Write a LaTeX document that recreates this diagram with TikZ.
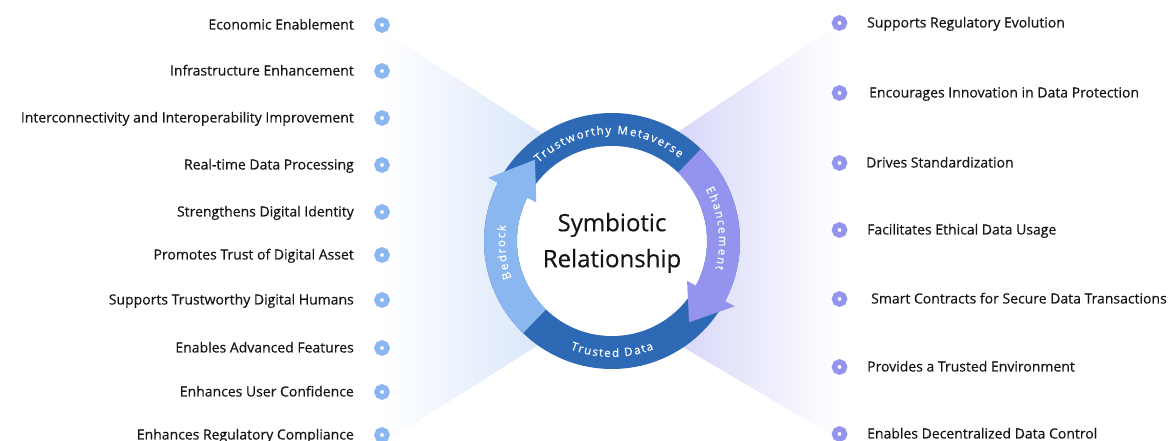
\documentclass[tikz,border=0pt]{standalone}
\usepackage{fontspec}
\setmainfont{Open Sans}[FakeBold=0.35]
\usetikzlibrary{
  decorations.text
  }
\definecolor{ringblue}{HTML}{2E69B6}
\definecolor{bedrockblue}{HTML}{8BB7F0}
\definecolor{enhviolet}{HTML}{9494EE}
\definecolor{fanblue}{HTML}{CCDDF8}
\definecolor{fanviolet}{HTML}{C9C9F7}
\definecolor{inkgray}{HTML}{141414}

\begin{document}
\begin{tikzpicture}[x=1pt, y=1pt]
  \tikzstyle{every node}=[font=\fontsize{14}{16}\selectfont, text=inkgray, inner sep=0pt]
  \tikzstyle{leftdot}=[circle, draw=bedrockblue, fill=white, line width=5.5pt, minimum size=10pt]
  \tikzstyle{rightdot}=[circle, draw=enhviolet, fill=white, line width=5.5pt, minimum size=10pt]
  \tikzstyle{ringtext}=[text=white, font=\fontsize{11.5}{13}\selectfont]
  \useasboundingbox (0,0) rectangle (1168,441);
  %
  % the two fans
  \shade[left color=white, right color=fanblue] (382,411) -- (600,270) -- (600,135) -- (382,-3) -- cycle;
  \shade[left color=fanviolet, right color=white] (620,270) -- (840,418) -- (840,1) -- (620,131) -- cycle;
  %
  \foreach \y/\txt [count=\i] in {25/Economic Enablement, 71/Infrastructure Enhancement,
      118/Interconnectivity and Interoperability Improvement, 165/Real-time Data Processing,
      212/Strengthens Digital Identity, 255/Promotes Trust of Digital Asset,
      300/Supports Trustworthy Digital Humans, 348/Enables Advanced Features,
      392/Enhances User Confidence, 435/Enhances Regulatory Compliance}{
    \node[leftdot] (ldot\i) at (382,441-\y) {};
    \node[anchor=base east] (ltxt\i) at (354,436.5-\y) {\txt};
  }
  \foreach \y/\x/\txt [count=\i] in {23/867/Supports Regulatory Evolution,
      93/869/Encourages Innovation in Data Protection, 163/866/Drives Standardization,
      230/867/Facilitates Ethical Data Usage, 299/871/Smart Contracts for Secure Data Transactions,
      367/867/Provides a Trusted Environment, 434/867/Enables Decentralized Data Control}{
    \node[rightdot] (rdot\i) at (839.5,441-\y) {};
    \node[anchor=base west] (rtxt\i) at (\x,436.5-\y) {\txt};
  }
  %
  \begin{scope}[shift={(612,200)}]
    \fill[ringblue] (0,0) circle (128);
    \fill[white] (0,0) circle (95);
    % bedrock arrow
    \fill[bedrockblue] (226:128) arc (226:153:128) -- (153:139) -- (133.5:112)
      -- (153:85) -- (153:95) arc (153:226:95) -- cycle;
    % enhancement arrow
    \fill[enhviolet] (46:128) arc (46:-28:128) -- (-28:139) -- (-46.5:112)
      -- (-28:85) -- (-28:95) arc (-28:46:95) -- cycle;
    %
    \path[postaction={
      decorate,
      decoration={
        text effects along path,
        text align=center,
        text={Trustworthy Metaverse},
        text effects/.cd,
          character widths={inner xsep=0.1pt},
          characters={text along path, ringtext}}}
        ] (150:107) arc (150:34:107);
    \path[postaction={
      decorate,
      decoration={
        text effects along path,
        text align=center,
        text={Ehancement},
        text effects/.cd,
          character widths={inner xsep=0.1pt},
          characters={text along path, ringtext}}}
        ] (50:107) arc (50:-36:107);
    \path[postaction={
      decorate,
      decoration={
        text effects along path,
        text align=center,
        text={Trusted Data},
        text effects/.cd,
          character widths={inner xsep=0.1pt},
          characters={text along path, ringtext}}}
        ] (-140:116) arc (-140:-40:116);
    \path[postaction={
      decorate,
      decoration={
        text effects along path,
        text align=center,
        text={Bedrock},
        text effects/.cd,
          character widths={inner xsep=0.1pt},
          characters={text along path, ringtext}}}
        ] (230:107) arc (230:142:107);
    %
    \node[font=\fontsize{24}{36}\selectfont, align=center] (core) at (0,-2) {Symbiotic\\Relationship};
  \end{scope}
\end{tikzpicture}
\end{document}
